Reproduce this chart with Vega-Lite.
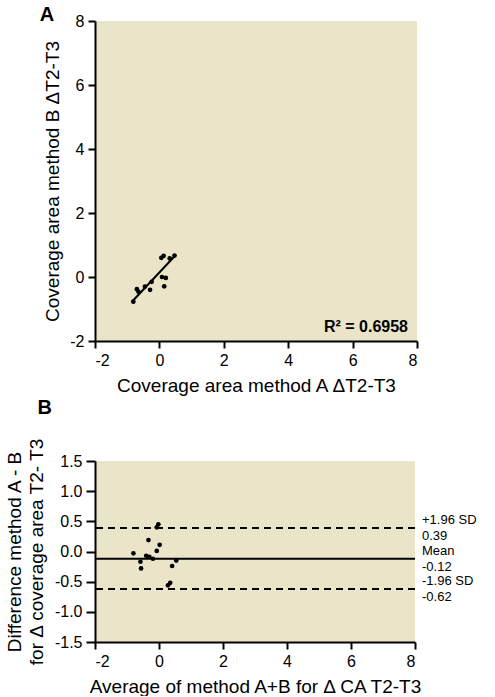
{
  "$schema": "https://vega.github.io/schema/vega-lite/v6.json",
  "background": "white",
  "padding": {"left": 5, "top": 5, "right": 5, "bottom": 0},
  "spacing": 2,
  "config": {
    "font": "Liberation Sans",
    "view": {"fill": "#EAE4C9", "stroke": null},
    "axis": {
      "domainColor": "black", "domainWidth": 2, "tickColor": "black", "tickWidth": 2, "tickSize": 7,
      "grid": false, "labelFontSize": 16, "labelColor": "black", "labelPadding": 4, "labelOverlap": false,
      "titleFontSize": 19, "titleFontWeight": "normal", "titleColor": "black", "titlePadding": 8,
      "labelFont": "Liberation Sans", "titleFont": "Liberation Sans"
    },
    "title": {"anchor": "start", "frame": "bounds", "fontSize": 20, "fontWeight": "bold", "font": "Liberation Sans", "color": "black"}
  },
  "datasets": {
    "scatterA": [
      {"methodA": 0.06, "methodB": 0.60},
      {"methodA": 0.13, "methodB": 0.66},
      {"methodA": 0.32, "methodB": 0.58},
      {"methodA": 0.47, "methodB": 0.67},
      {"methodA": 0.08, "methodB": 0.00},
      {"methodA": 0.20, "methodB": -0.03},
      {"methodA": -0.24, "methodB": -0.15},
      {"methodA": -0.29, "methodB": -0.40},
      {"methodA": 0.15, "methodB": -0.29},
      {"methodA": -0.70, "methodB": -0.38},
      {"methodA": -0.65, "methodB": -0.46},
      {"methodA": -0.81, "methodB": -0.77},
      {"methodA": -0.45, "methodB": -0.30}
    ],
    "fitA": [
      {"methodA": -0.86, "methodB": -0.78},
      {"methodA": 0.50, "methodB": 0.68}
    ],
    "rsq": [
      {"x": 8, "y": -2, "label": "R² = 0.6958"}
    ],
    "ba": [
      {"avg": -0.07, "diff": 0.40},
      {"avg": -0.02, "diff": 0.45},
      {"avg": -0.33, "diff": 0.19},
      {"avg": 0.02, "diff": 0.11},
      {"avg": -0.07, "diff": 0.01},
      {"avg": -0.80, "diff": -0.03},
      {"avg": -0.40, "diff": -0.07},
      {"avg": -0.30, "diff": -0.09},
      {"avg": -0.19, "diff": -0.12},
      {"avg": -0.58, "diff": -0.17},
      {"avg": -0.56, "diff": -0.28},
      {"avg": 0.54, "diff": -0.15},
      {"avg": 0.41, "diff": -0.24},
      {"avg": 0.35, "diff": -0.52},
      {"avg": 0.28, "diff": -0.56}
    ],
    "baLines": [
      {"value": 0.39, "kind": "dashed", "top": "+1.96 SD", "bottom": "0.39"},
      {"value": -0.12, "kind": "solid", "top": "Mean", "bottom": "-0.12"},
      {"value": -0.62, "kind": "dashed", "top": "-1.96 SD", "bottom": "-0.62"}
    ]
  },
  "vconcat": [
    {
      "width": 322,
      "height": 320,
      "title": {"text": "A", "dx": -4, "offset": -12},
      "layer": [
        {
          "data": {"name": "scatterA"},
          "mark": {"type": "circle", "size": 22, "color": "black", "opacity": 1},
          "encoding": {
            "x": {"field": "methodA", "type": "quantitative",
                  "scale": {"domain": [-2, 8], "nice": false, "zero": false},
                  "axis": {"values": [-2, 0, 2, 4, 6, 8], "labelExpr": "replace(datum.label, '−', '-')", "title": "Coverage area method A ΔT2-T3"}},
            "y": {"field": "methodB", "type": "quantitative",
                  "scale": {"domain": [-2, 8], "nice": false, "zero": false},
                  "axis": {"values": [-2, 0, 2, 4, 6, 8], "labelExpr": "replace(datum.label, '−', '-')", "title": "Coverage area method B ΔT2-T3", "titlePadding": 7}}
          }
        },
        {
          "data": {"name": "fitA"},
          "mark": {"type": "line", "color": "black", "strokeWidth": 2},
          "encoding": {
            "x": {"field": "methodA", "type": "quantitative"},
            "y": {"field": "methodB", "type": "quantitative"}
          }
        },
        {
          "data": {"name": "rsq"},
          "mark": {"type": "text", "align": "right", "baseline": "bottom", "dx": -9, "dy": -6, "fontSize": 16, "fontWeight": "bold", "color": "black"},
          "encoding": {
            "x": {"field": "x", "type": "quantitative"},
            "y": {"field": "y", "type": "quantitative"},
            "text": {"field": "label"}
          }
        }
      ]
    },
    {
      "width": 320,
      "height": 181,
      "title": {"text": "B", "dx": 32, "offset": 17},
      "layer": [
        {
          "data": {"name": "ba"},
          "mark": {"type": "circle", "size": 22, "color": "black", "opacity": 1},
          "encoding": {
            "x": {"field": "avg", "type": "quantitative",
                  "scale": {"domain": [-2, 8], "nice": false, "zero": false},
                  "axis": {"values": [-2, 0, 2, 4, 6, 8], "labelExpr": "replace(datum.label, '−', '-')", "title": "Average of method A+B for Δ CA T2-T3"}},
            "y": {"field": "diff", "type": "quantitative",
                  "scale": {"domain": [-1.5, 1.5], "nice": false, "zero": false},
                  "axis": {"tickCount": 7, "labelExpr": "replace(format(datum.value, '.1f'), '−', '-')",
                           "labelOverlap": false,
                           "title": ["Difference method A - B", "for Δ coverage area  T2- T3"],
                           "titleLineHeight": 22, "titlePadding": 8, "tickSize": 9}}
          }
        },
        {
          "data": {"name": "baLines"},
          "mark": {"type": "rule", "color": "black", "strokeWidth": 2},
          "encoding": {
            "y": {"field": "value", "type": "quantitative"},
            "strokeDash": {"field": "kind", "type": "nominal",
                           "scale": {"domain": ["dashed", "solid"], "range": [[7, 5], [1, 0]]},
                           "legend": null}
          }
        },
        {
          "data": {"name": "baLines"},
          "mark": {"type": "text", "align": "left", "baseline": "alphabetic", "dx": 7, "dy": -4, "fontSize": 13, "color": "black"},
          "encoding": {
            "x": {"datum": 8, "type": "quantitative"},
            "y": {"field": "value", "type": "quantitative"},
            "text": {"field": "top"}
          }
        },
        {
          "data": {"name": "baLines"},
          "mark": {"type": "text", "align": "left", "baseline": "top", "dx": 7, "dy": 2, "fontSize": 13, "color": "black"},
          "encoding": {
            "x": {"datum": 8, "type": "quantitative"},
            "y": {"field": "value", "type": "quantitative"},
            "text": {"field": "bottom"}
          }
        }
      ]
    }
  ]
}
